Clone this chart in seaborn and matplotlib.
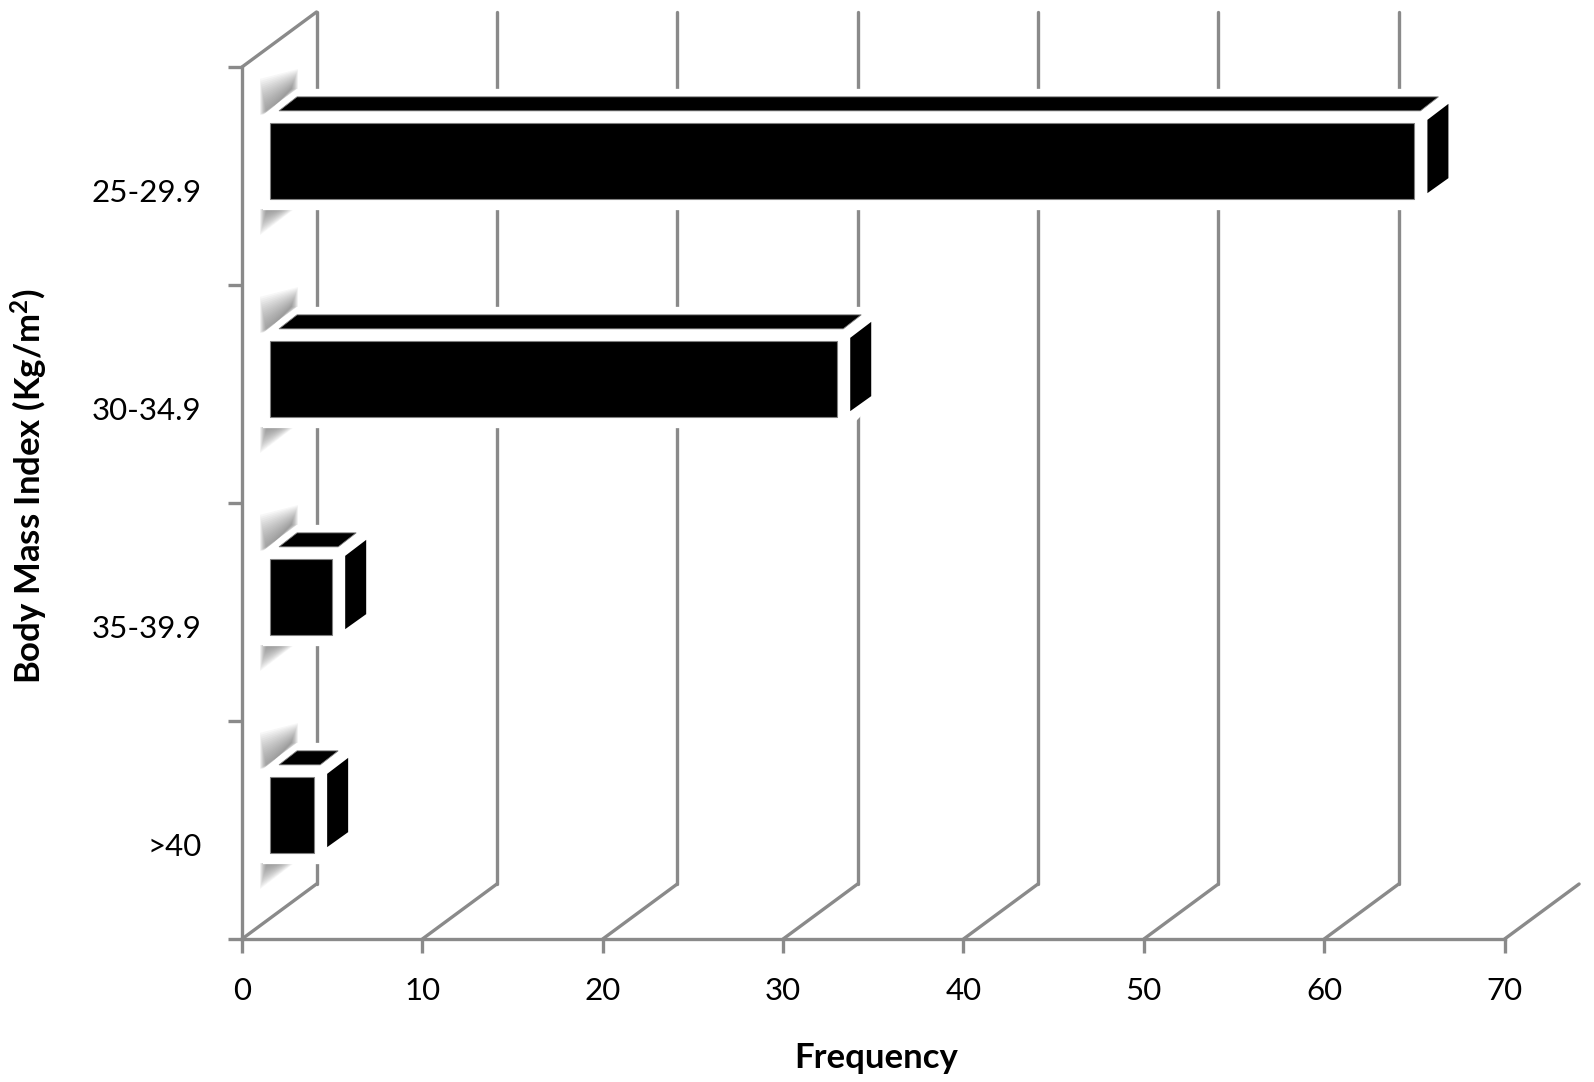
import matplotlib
matplotlib.use("Agg")
import matplotlib.pyplot as plt
import matplotlib.transforms as mtransforms
from matplotlib.patches import Polygon
import pandas as pd
import seaborn as sns

categories = ["25-29.9", "30-34.9", "35-39.9", ">40"]
frequency = [65, 33, 5, 4]
x_ticks = [0, 10, 20, 30, 40, 50, 60, 70]

sns.set_style("white")
plt.rcParams["font.family"] = ["Lato", "DejaVu Sans"]
plt.rcParams["text.color"] = "black"
plt.rcParams["mathtext.fontset"] = "custom"
plt.rcParams["mathtext.bf"] = "Lato:bold"
plt.rcParams["mathtext.rm"] = "Lato"

GREY = "#8a8a8a"
LINE = 2.4
W, H = 1594, 1082
LEFT, RIGHT, TOP, BOTTOM = 242, 1504.6, 67, 939

fig = plt.figure(figsize=(W / 100, H / 100), dpi=100)
ax = fig.add_axes([LEFT / W, 1 - BOTTOM / H, (RIGHT - LEFT) / W, (BOTTOM - TOP) / H])

df = pd.DataFrame({"bmi": categories, "freq": frequency})
sns.barplot(data=df, x="freq", y="bmi", color="black", saturation=1, width=0.35,
            edgecolor="#808080", linewidth=0.8, ax=ax)

ax.set_xlim(0, 70)
ax.set_ylim(3.5, -0.5)

# pixels to data units, y axis is inverted so down is positive in both
px_x = (RIGHT - LEFT) / 70
px_y = (BOTTOM - TOP) / 4
depth_x = 74.5 / px_x
depth_y = 55 / px_y


def poly(points, **kws):
    ax.add_patch(Polygon(points, closed=True, clip_on=False, **kws))


# back wall
for t in x_ticks:
    ax.plot([t, t + depth_x], [3.5, 3.5 - depth_y], color=GREY, lw=LINE, clip_on=False, zorder=1)
    if t < 70:
        ax.plot([t + depth_x, t + depth_x], [3.5 - depth_y, -0.5 - depth_y], color=GREY, lw=LINE,
                clip_on=False, zorder=1)
ax.plot([0, depth_x], [-0.5, -0.5 - depth_y], color=GREY, lw=LINE, clip_on=False, zorder=1)

# fake 3d parts around each bar seaborn drew
start = 28 / px_x
for bar, val in zip(ax.patches, frequency):
    y0 = bar.get_y() - 15 / px_y
    bar.set_y(y0)
    bar.set_x(start)
    bar.set_width(val - start)
    bar.set_zorder(6)
    y1 = y0 + bar.get_height()

    def p(dx, dy, base_x, base_y):
        return (base_x + dx / px_x, base_y + dy / px_y)

    # soft shadows on the side wall, stacked so they fade out at the rims
    n = 18
    for i in range(n):
        f = i / n
        up = 36 * (1 - f)
        inset = 7 * f
        poly([p(-10 + inset, -8, start, y0), p(28 - inset, -34, start, y0),
              p(28 - inset, -34 - up * 0.55, start, y0), p(-10 + inset, -8 - up, start, y0)],
             facecolor="#666666", alpha=0.05, lw=0, zorder=2)
        drop = 26 * (1 - f)
        poly([p(-10 + inset, 10, start, y1), p(24 - inset * 2, 10, start, y1),
              p(-10 + inset, 10 + drop, start, y1)],
             facecolor="#666666", alpha=0.05, lw=0, zorder=2)

    # white halo
    poly([p(-7, -8, start, y0), p(27, -34, start, y0), p(42, -34, val, y0),
          p(42, -20, val, y1), p(12, 11, val, y1), p(-7, 11, start, y1)],
         facecolor="white", edgecolor="none", zorder=3)

    # top and side
    poly([p(9, -12, start, y0), p(27, -26, start, y0), p(24, -26, val, y0), p(6, -12, val, y0)],
         facecolor="black", edgecolor="#808080", lw=0.6, zorder=5)
    poly([p(13, -3, val, y0), p(34, -19, val, y0), p(34, -21, val, y1), p(13, -6, val, y1)],
         facecolor="black", edgecolor="none", zorder=5)

# axes
sns.despine(ax=ax)
for side in ["left", "bottom"]:
    ax.spines[side].set_color(GREY)
    ax.spines[side].set_linewidth(LINE)
    ax.spines[side].set_zorder(4)

ax.set_xticks(x_ticks)
ax.tick_params(axis="x", which="major", bottom=True, length=10, width=LINE, color=GREY, pad=17,
               labelsize=22.5, labelcolor="black")
ax.set_yticks(range(4))
ax.set_yticks([-0.5, 0.5, 1.5, 2.5, 3.5], minor=True)
ax.tick_params(axis="y", which="major", left=False, length=0, pad=29, labelsize=22.5, labelcolor="black")
ax.tick_params(axis="y", which="minor", left=True, length=10, width=LINE, color=GREY)

shift = mtransforms.ScaledTranslation(0, -14 / 100, fig.dpi_scale_trans)
for lab in ax.get_yticklabels():
    lab.set_transform(lab.get_transform() + shift)

ax.set_xlabel("")
ax.set_ylabel("")
fig.text(876 / W, 1 - 1058 / H, "Frequency", ha="center", va="center", fontsize=25, fontweight="bold")
fig.text(29 / W, 1 - 486 / H, r"Body Mass Index (Kg/m$\mathbf{^{2}}$)", ha="center", va="center",
         rotation=90, fontsize=25, fontweight="bold")

fig.savefig("out.png", dpi=100, facecolor="white")
